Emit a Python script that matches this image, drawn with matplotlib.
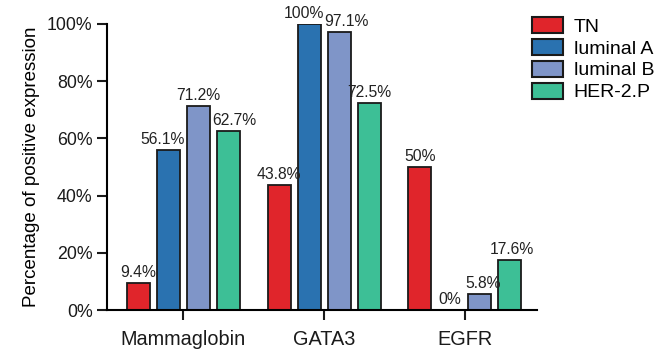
import matplotlib
matplotlib.use("Agg")
import matplotlib.pyplot as plt
import numpy as np

plt.rcParams['font.family'] = ['Liberation Sans', 'DejaVu Sans']

categories = ['Mammaglobin', 'GATA3', 'EGFR']
groups = ['TN', 'luminal A', 'luminal B', 'HER-2.P']
tn = [9.4, 43.8, 50.0]
lum_a = [56.1, 100.0, 0.0]
lum_b = [71.2, 97.1, 5.8]
her2 = [62.7, 72.5, 17.6]
labels_tn = ['9.4%', '43.8%', '50%']
labels_a = ['56.1%', '100%', '0%']
labels_b = ['71.2%', '97.1%', '5.8%']
labels_h = ['62.7%', '72.5%', '17.6%']

colors = ['#e0252b', '#2a72b0', '#7f95c8', '#3dbf96']
series = [tn, lum_a, lum_b, her2]
texts = [labels_tn, labels_a, labels_b, labels_h]
# small nudges so neighbouring labels don't collide (in x data units)
nudge = [[0, 0, 0], [-0.038, -0.038, 0], [0, 0.05, 0.025], [0.045, 0, 0.015]]

fig = plt.figure(figsize=(6.66, 3.52), dpi=100)
ax = fig.add_axes([0.161, 0.119, 0.645, 0.813])

x = np.arange(len(categories))
pitch = 0.213
width = 0.163
for i, (vals, col, txt, name) in enumerate(zip(series, colors, texts, groups)):
    pos = x + (i - 1.5) * pitch
    ax.bar(pos, vals, width=width, color=col, edgecolor='#1a1a1a', linewidth=1.3, label=name)
    for j, (p, v, t) in enumerate(zip(pos, vals, txt)):
        ax.text(p + nudge[i][j], v + 1.0, t, ha='center', va='bottom',
                fontsize=11.3, color='#222222')

ax.set_xlim(-0.54, 2.51)
ax.set_ylim(0, 100)
ax.set_yticks([0, 20, 40, 60, 80, 100])
ax.set_yticklabels(['0%', '20%', '40%', '60%', '80%', '100%'], fontsize=12.8)
ax.set_xticks(x)
ax.set_xticklabels(categories, fontsize=14.3)
ax.set_ylabel('Percentage of positive expression', fontsize=13.5, labelpad=5)
ax.spines['top'].set_visible(False)
ax.spines['right'].set_visible(False)
ax.spines['left'].set_linewidth(1.5)
ax.spines['bottom'].set_linewidth(1.5)
ax.tick_params(axis='both', direction='out', length=7, width=1.5, colors='#1a1a1a')
ax.tick_params(axis='x', pad=7)

leg = fig.legend(loc='upper left', bbox_to_anchor=(0.799, 0.952), frameon=False,
                 fontsize=14, handlelength=1.58, handleheight=0.9,
                 labelspacing=0.16, handletextpad=0.55, borderaxespad=0, borderpad=0)
for h in leg.legend_handles:
    h.set_linewidth(1.5)

fig.savefig('out.png', dpi=100)
